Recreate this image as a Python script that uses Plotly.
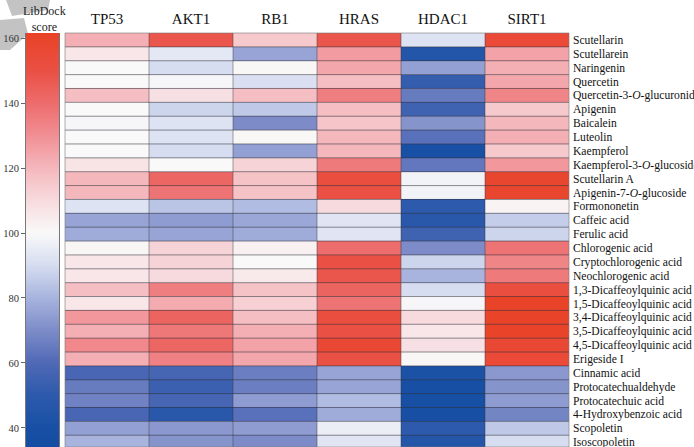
import numpy as np
import plotly.graph_objects as go

# Docking targets (columns) and compounds (rows)
targets = ["TP53", "AKT1", "RB1", "HRAS", "HDAC1", "SIRT1"]
compounds = [
    "Scutellarin", "Scutellarein", "Naringenin", "Quercetin",
    "Quercetin-3-<i>O</i>-glucuronide", "Apigenin", "Baicalein", "Luteolin",
    "Kaempferol", "Kaempferol-3-<i>O</i>-glucoside", "Scutellarin A",
    "Apigenin-7-<i>O</i>-glucoside", "Formononetin", "Caffeic acid",
    "Ferulic acid", "Chlorogenic acid", "Cryptochlorogenic acid",
    "Neochlorogenic acid", "1,3-Dicaffeoylquinic acid",
    "1,5-Dicaffeoylquinic acid", "3,4-Dicaffeoylquinic acid",
    "3,5-Dicaffeoylquinic acid", "4,5-Dicaffeoylquinic acid", "Erigeside I",
    "Cinnamic acid", "Protocatechualdehyde", "Protocatechuic acid",
    "4-Hydroxybenzoic acid", "Scopoletin", "Isoscopoletin",
]

# LibDock scores per target, in compound order
tp53 = [122, 106, 100, 100, 118, 100, 99, 100, 100, 107, 120, 120, 92, 76, 78,
        101, 106, 106, 118, 106, 128, 122, 132, 122, 58, 65, 67, 58, 75, 80]
akt1 = [148, 94, 90, 99, 108, 88, 92, 92, 90, 100, 142, 138, 84, 74, 76,
        112, 112, 110, 135, 123, 143, 137, 142, 134, 57, 54, 57, 48, 73, 72]
rb1 = [115, 76, 101, 91, 118, 85, 70, 101, 75, 112, 117, 117, 82, 77, 78,
       103, 100, 105, 117, 113, 118, 122, 125, 124, 66, 66, 74, 62, 74, 70]
hras = [148, 127, 124, 118, 135, 118, 116, 120, 120, 136, 152, 150, 110, 93, 93,
        140, 150, 148, 143, 138, 152, 150, 156, 150, 76, 76, 82, 78, 96, 93]
hdac1 = [92, 45, 75, 52, 65, 55, 72, 62, 40, 64, 98, 98, 50, 48, 55,
         70, 88, 80, 90, 99, 110, 106, 108, 101, 42, 38, 38, 38, 50, 45]
sirt1 = [155, 125, 122, 124, 133, 115, 120, 122, 115, 128, 158, 158, 102, 86, 88,
         138, 133, 136, 152, 160, 160, 160, 156, 155, 73, 72, 74, 68, 85, 90]

scale_ticks = [40, 60, 80, 100, 120, 140, 160]
scale_min, scale_max = 34.1, 161.6

columns = [tp53, akt1, rb1, hras, hdac1, sirt1]
z = np.array(columns).T  # rows = compounds, cols = targets

def frac(v):
    return (v - scale_min) / (scale_max - scale_min)

colorscale = [
    [0.0, "rgb(20,76,162)"],
    [frac(40), "rgb(24,80,165)"],
    [frac(50), "rgb(45,90,172)"],
    [frac(60), "rgb(80,105,182)"],
    [frac(70), "rgb(125,140,200)"],
    [frac(80), "rgb(168,180,222)"],
    [frac(90), "rgb(214,221,240)"],
    [frac(100), "rgb(249,249,249)"],
    [frac(110), "rgb(247,218,221)"],
    [frac(120), "rgb(244,183,188)"],
    [frac(130), "rgb(241,143,148)"],
    [frac(140), "rgb(237,108,108)"],
    [frac(150), "rgb(234,80,68)"],
    [1.0, "rgb(233,66,38)"],
]

serif = "Liberation Serif"
W, H = 694, 447
top_px = 33
n_rows = len(compounds)
row_px = 13.87
visible_rows = (H - top_px) / row_px

fig = go.Figure()

fig.add_trace(go.Heatmap(
    z=z, x=list(range(len(targets))), y=list(range(n_rows)),
    coloraxis="coloraxis", xaxis="x", yaxis="y",
    hovertemplate="%{z}<extra></extra>",
))

# Vertical colour scale drawn as its own strip with labels on the left
scale_vals = np.linspace(scale_min, scale_max, 300)
fig.add_trace(go.Heatmap(
    z=scale_vals.reshape(-1, 1), x=[0], y=scale_vals,
    coloraxis="coloraxis", xaxis="x2", yaxis="y2", hoverinfo="skip",
))

plot_top = 1 - top_px / H
fig.update_layout(
    width=W, height=H,
    margin=dict(l=0, r=0, t=0, b=0, autoexpand=False),
    paper_bgcolor="white", plot_bgcolor="white",
    font=dict(family=serif, color="#111"),
    coloraxis=dict(colorscale=colorscale, cmin=scale_min, cmax=scale_max,
                   showscale=False),
    xaxis=dict(domain=[65 / W, 569 / W], side="top", automargin=False,
               tickvals=list(range(len(targets))), ticktext=targets,
               tickfont=dict(size=15, family=serif),
               ticks="", showgrid=False, zeroline=False,
               range=[-0.5, len(targets) - 0.5], ticklabelstandoff=5),
    yaxis=dict(domain=[0, plot_top], side="right", anchor="x", automargin=False,
               tickvals=list(range(n_rows)), ticktext=compounds,
               tickfont=dict(size=11.6, family=serif),
               ticks="", showgrid=False, zeroline=False,
               range=[visible_rows - 0.5, -0.5], ticklabelstandoff=3,
               ticklabeloverflow="allow"),
    xaxis2=dict(domain=[26 / W, 59 / W], anchor="y2", visible=False,
                automargin=False, range=[-0.5, 0.5]),
    yaxis2=dict(domain=[0, plot_top], anchor="x2", side="left", automargin=False,
                range=[scale_min, scale_max], tickvals=scale_ticks,
                ticks="outside", ticklen=4, tickcolor="#666",
                tickfont=dict(size=10.5, family=serif, color="#333"),
                showgrid=False, zeroline=False,
                showline=True, linecolor="#777", linewidth=1, mirror=True),
)

shapes = []
# row separators
for i in range(1, n_rows):
    shapes.append(dict(type="line", xref="x domain", yref="y",
                       x0=0, x1=1, y0=i - 0.5, y1=i - 0.5,
                       line=dict(color="rgba(50,50,60,0.55)", width=1),
                       layer="above"))
# column separators
for j in range(1, len(targets)):
    shapes.append(dict(type="line", xref="x", yref="y domain",
                       x0=j - 0.5, x1=j - 0.5, y0=0, y1=1,
                       line=dict(color="rgba(50,50,60,0.45)", width=1),
                       layer="above"))
# outer frame of the grid
shapes.append(dict(type="rect", xref="x domain", yref="y domain",
                   x0=0, x1=1, y0=0, y1=1.0,
                   line=dict(color="rgba(120,120,120,0.6)", width=1),
                   layer="above"))
# grey corner mark in the upper left
shapes.append(dict(type="path", xref="paper", yref="paper",
                   path=(f"M {6/W} {1-0/H} L {50/W} {1-0/H} L {48/W} {1-10/H} "
                         f"L {12/W} {1-16/H} Z"),
                   fillcolor="rgba(185,185,185,0.85)", line=dict(width=0),
                   layer="above"))
shapes.append(dict(type="path", xref="paper", yref="paper",
                   path=(f"M {0/W} {1-20/H} L {24/W} {1-18/H} L {28/W} {1-34/H} "
                         f"L {10/W} {1-50/H} L {0/W} {1-50/H} Z"),
                   fillcolor="rgba(185,185,185,0.85)", line=dict(width=0),
                   layer="below"))
fig.update_layout(shapes=shapes)

fig.add_annotation(text="LibDock<br>score", xref="paper", yref="paper",
                   x=44 / W, y=1 - 2 / H, xanchor="center", yanchor="top",
                   showarrow=False, align="center",
                   font=dict(size=12, family=serif, color="#222"))

fig.write_html("out.html")
